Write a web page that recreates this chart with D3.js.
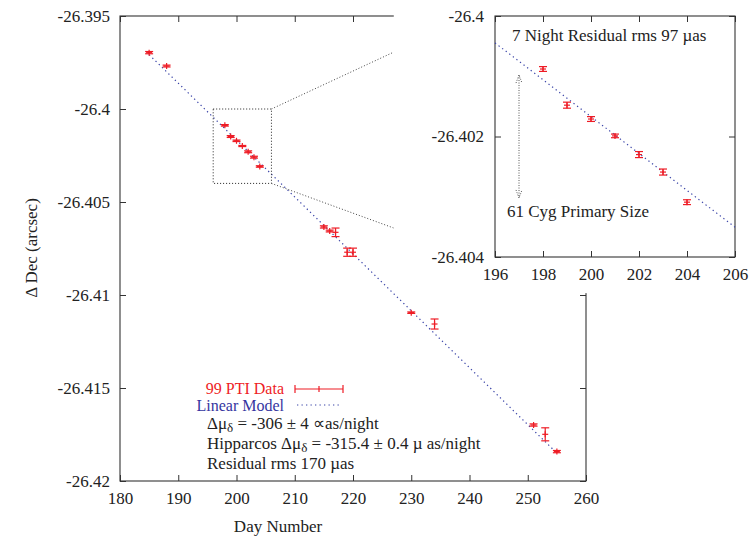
<!DOCTYPE html>
<html><head><meta charset="utf-8">
<script src="https://cdn.jsdelivr.net/npm/d3@7"></script>
<style>body{margin:0;background:#fff}svg{display:block}text{font-family:"Liberation Serif","Times New Roman",serif;font-size:17px;fill:#222}</style>
</head><body><svg id="c" width="750" height="536"></svg>
<script>
// ---- data ----
const days   = [185, 188, 198, 199, 200, 201, 202, 203, 204, 215, 216, 217, 219, 220, 230, 234, 251, 253, 255];
const decs   = [-26.39697, -26.39769, -26.40088, -26.40148, -26.40171, -26.40199, -26.40230, -26.40259, -26.40309,
                -26.40634, -26.40656, -26.40663, -26.40770, -26.40770, -26.41095, -26.41156, -26.41699, -26.41749, -26.41842];
const errs   = [0.00006, 0.00005, 0.00004, 0.00005, 0.00004, 0.00003, 0.00005, 0.00005, 0.00004,
                0.00006, 0.00005, 0.00023, 0.00022, 0.00022, 0.00004, 0.00027, 0.00006, 0.00035, 0.00006];
const modelRef = 200, modelAt200 = -26.40167, modelSlope = -0.000306; // arcsec/day
const modelRange = [185, 255];
const xTicks = [180, 190, 200, 210, 220, 230, 240, 250, 260];
const yTicks = [-26.395, -26.4, -26.405, -26.41, -26.415, -26.42];
const xTicksIn = [196, 198, 200, 202, 204, 206];
const yTicksIn = [-26.4, -26.402, -26.404];
const zoomBox = {x0: 196, x1: 206, y0: -26.404, y1: -26.4};
const sizeArrow = {day: 197, top: -26.40098, bottom: -26.40302};
const legendLabels = ["99 PTI Data", "Linear Model"];

// ---- setup ----
const svg = d3.select("#c");
const RED = "#ee1c25", BLUE = "#3a44a8", AX = "#333";
const x = d3.scaleLinear([180, 260], [120, 586]);
const y = d3.scaleLinear([-26.42, -26.395], [481, 16]);
const xi = d3.scaleLinear([196, 206], [495, 735]);
const yi = d3.scaleLinear([-26.404, -26.4], [257, 16]);
const fmt = d => String(+d.toFixed(4));
const data = days.map((d, i) => ({d, v: decs[i], e: errs[i]}));
const model = d => modelAt200 + modelSlope * (d - modelRef);

function styleAxis(g) {
  g.select(".domain").remove();
  g.selectAll(".tick line").attr("stroke", AX).attr("stroke-width", 1);
  g.selectAll(".tick text").attr("fill", "#222").style("font-size", "17px").style("font-family", '"Liberation Serif",serif');
}
function drawPanel(g, xs, ys, xt, yt, padL, padB) {
  const [xa, xb] = xs.range(), [yb, ya] = ys.range();
  g.append("rect").attr("x", xa).attr("y", ya).attr("width", xb - xa).attr("height", yb - ya)
    .attr("fill", "none").attr("stroke", AX).attr("stroke-width", 1.1);
  g.append("g").attr("transform", `translate(0,${yb})`)
    .call(d3.axisBottom(xs).tickValues(xt).tickSize(-6).tickPadding(padB).tickFormat(fmt)).call(styleAxis);
  g.append("g").attr("transform", `translate(0,${ya})`)
    .call(d3.axisTop(xs).tickValues(xt).tickSize(-6).tickFormat("")).call(styleAxis);
  g.append("g").attr("transform", `translate(${xa},0)`)
    .call(d3.axisLeft(ys).tickValues(yt).tickSize(-6).tickPadding(padL).tickFormat(fmt)).call(styleAxis);
  g.append("g").attr("transform", `translate(${xb},0)`)
    .call(d3.axisRight(ys).tickValues(yt).tickSize(-6).tickFormat("")).call(styleAxis);
}
function drawPoints(g, pts, xs, ys) {
  const p = g.selectAll("g.pt").data(pts).join("g").attr("class", "pt")
    .attr("stroke", RED).attr("stroke-width", 1.2).attr("fill", "none");
  p.append("line").attr("x1", d => xs(d.d)).attr("x2", d => xs(d.d)).attr("y1", d => ys(d.v + d.e)).attr("y2", d => ys(d.v - d.e));
  p.append("line").attr("x1", d => xs(d.d) - 4).attr("x2", d => xs(d.d) + 4).attr("y1", d => ys(d.v + d.e)).attr("y2", d => ys(d.v + d.e));
  p.append("line").attr("x1", d => xs(d.d) - 4).attr("x2", d => xs(d.d) + 4).attr("y1", d => ys(d.v - d.e)).attr("y2", d => ys(d.v - d.e));
  p.append("line").attr("x1", d => xs(d.d) - 3).attr("x2", d => xs(d.d) + 3).attr("y1", d => ys(d.v)).attr("y2", d => ys(d.v));
  p.append("line").attr("x1", d => xs(d.d)).attr("x2", d => xs(d.d)).attr("y1", d => ys(d.v) - 3).attr("y2", d => ys(d.v) + 3);
}
const lineGen = (xs, ys) => d3.line().x(d => xs(d)).y(d => ys(model(d)));

// ---- main panel ----
const main = svg.append("g");
drawPanel(main, x, y, xTicks, yTicks, 10, 11);
main.append("path").attr("d", lineGen(x, y)(modelRange)).attr("fill", "none")
  .attr("stroke", BLUE).attr("stroke-width", 1.2).attr("stroke-dasharray", "1.3,3.2");
drawPoints(main, data, x, y);
// zoom box and connector lines
main.append("rect").attr("x", x(zoomBox.x0)).attr("y", y(zoomBox.y1))
  .attr("width", x(zoomBox.x1) - x(zoomBox.x0)).attr("height", y(zoomBox.y0) - y(zoomBox.y1))
  .attr("fill", "none").attr("stroke", "#222").attr("stroke-width", 1).attr("stroke-dasharray", "1,2");
main.append("line").attr("x1", x(zoomBox.x1)).attr("y1", y(zoomBox.y1)).attr("x2", x(227)).attr("y2", y(-26.39694))
  .attr("stroke", "#444").attr("stroke-width", 1).attr("stroke-dasharray", "1,2");
main.append("line").attr("x1", x(zoomBox.x1)).attr("y1", y(zoomBox.y0)).attr("x2", x(227)).attr("y2", y(-26.4064))
  .attr("stroke", "#444").attr("stroke-width", 1).attr("stroke-dasharray", "1,2");

// axis titles
svg.append("text").attr("x", 278).attr("y", 532).attr("text-anchor", "middle").text("Day Number");
svg.append("text").attr("transform", "translate(37,248) rotate(-90)").attr("text-anchor", "middle").text("Δ Dec (arcsec)");

// legend
svg.append("text").attr("x", 284).attr("y", 394).attr("text-anchor", "end").style("fill", RED).style("font-size", "16px").text(legendLabels[0]);
svg.append("text").attr("x", 284).attr("y", 411).attr("text-anchor", "end").style("fill", "#3535a0").style("font-size", "16px").text(legendLabels[1]);
const lg = svg.append("g").attr("stroke", RED).attr("stroke-width", 1.2);
lg.append("line").attr("x1", 295).attr("x2", 343).attr("y1", 389).attr("y2", 389);
lg.append("line").attr("x1", 295).attr("x2", 295).attr("y1", 385).attr("y2", 393);
lg.append("line").attr("x1", 343).attr("x2", 343).attr("y1", 385).attr("y2", 393);
lg.append("line").attr("x1", 319).attr("x2", 319).attr("y1", 386).attr("y2", 392);
svg.append("line").attr("x1", 297).attr("x2", 342).attr("y1", 405).attr("y2", 405)
  .attr("stroke", BLUE).attr("stroke-width", 1.2).attr("stroke-dasharray", "1.3,3.2");

const t1 = svg.append("text").attr("x", 207).attr("y", 429);
t1.append("tspan").text("Δμ");
t1.append("tspan").attr("dy", 3).style("font-size", "13px").text("δ");
t1.append("tspan").attr("dy", -3).text(" = -306 ± 4 ∝as/night");
const t2 = svg.append("text").attr("x", 207).attr("y", 449);
t2.append("tspan").text("Hipparcos Δμ");
t2.append("tspan").attr("dy", 3).style("font-size", "13px").text("δ");
t2.append("tspan").attr("dy", -3).text(" = -315.4 ± 0.4 µ as/night");
svg.append("text").attr("x", 207).attr("y", 469).text("Residual rms 170 µas");

// ---- inset ----
svg.append("rect").attr("x", x(227)).attr("y", 0).attr("width", 750 - x(227)).attr("height", y(-26.4099)).attr("fill", "#fff");
const ins = svg.append("g");
drawPanel(ins, xi, yi, xTicksIn, yTicksIn, 11, 11);
ins.append("path").attr("d", lineGen(xi, yi)([196, 206])).attr("fill", "none")
  .attr("stroke", BLUE).attr("stroke-width", 1.2).attr("stroke-dasharray", "1.3,3.2");
drawPoints(ins, data.filter(d => d.d >= 196 && d.d <= 206), xi, yi);
ins.append("text").attr("x", 512).attr("y", 41).text("7 Night Residual rms 97 µas");
ins.append("text").attr("x", 507).attr("y", 217).text("61 Cyg Primary Size");
// double arrow
const ax0 = xi(sizeArrow.day), aT = yi(sizeArrow.top), aB = yi(sizeArrow.bottom);
const ag = ins.append("g").attr("stroke", "#555").attr("stroke-width", 1).attr("fill", "none");
ag.append("line").attr("x1", ax0).attr("x2", ax0).attr("y1", aT).attr("y2", aB).attr("stroke-dasharray", "1,1.5");
ag.append("path").attr("d", `M${ax0-3},${aT+8}L${ax0},${aT}L${ax0+3},${aT+8}`).attr("stroke-dasharray", "1,1.5");
ag.append("path").attr("d", `M${ax0-3},${aB-8}L${ax0},${aB}L${ax0+3},${aB-8}`).attr("stroke-dasharray", "1,1.5");
</script></body></html>
